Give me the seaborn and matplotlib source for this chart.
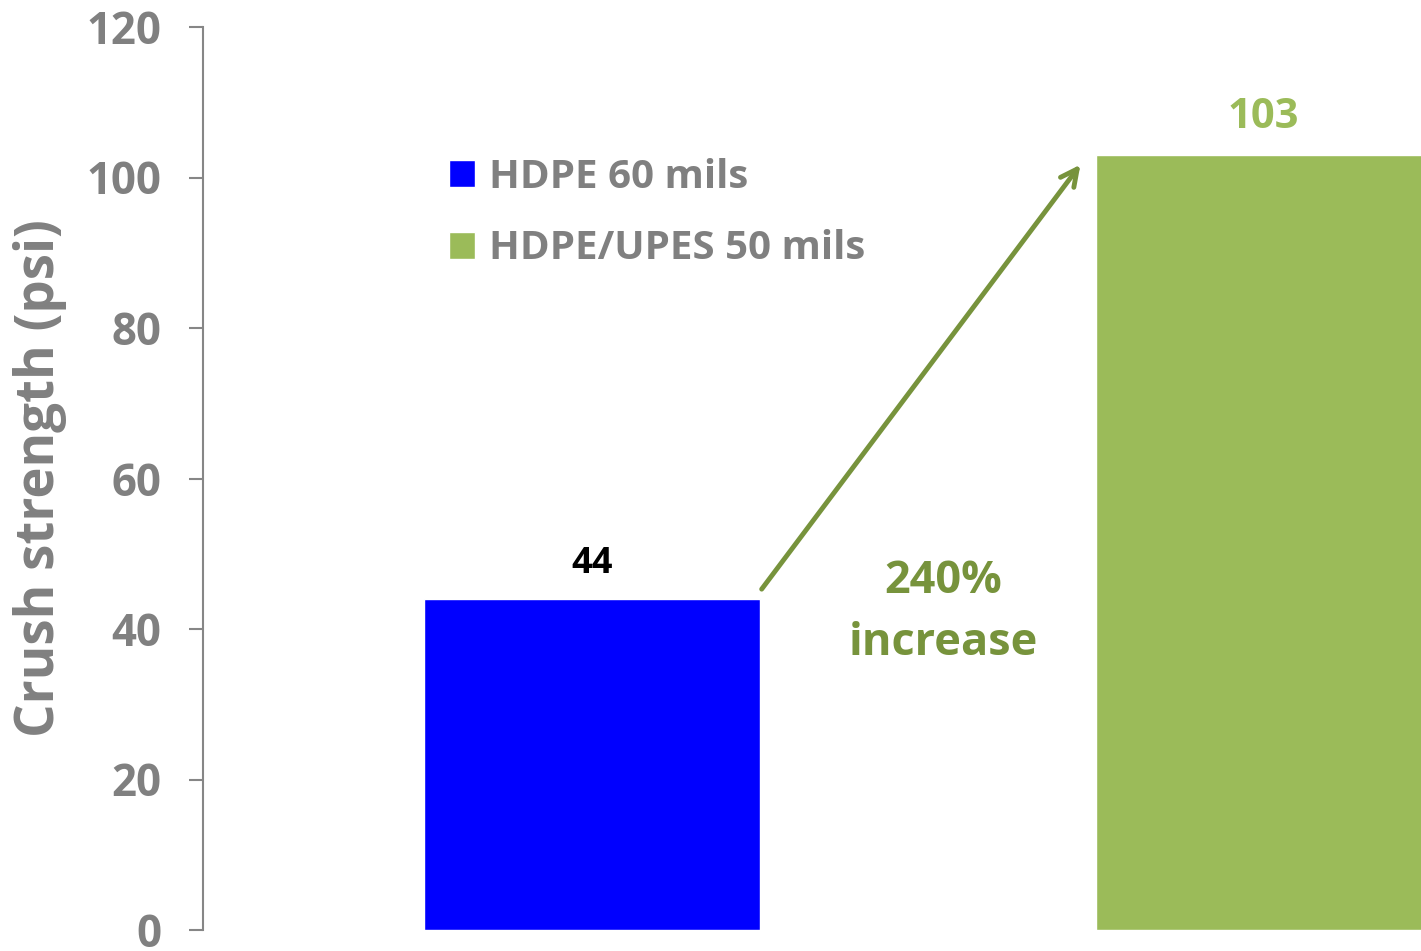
"""Crush strength bar chart."""
import pandas as pd
import seaborn as sns
import matplotlib.pyplot as plt

# data
categories = ['HDPE 60 mils', 'HDPE/UPES 50 mils']
values = [44, 103]
value_labels = ['44', '103']
bar_colors = ['#0000FF', '#9BBB59']
yticks = [0, 20, 40, 60, 80, 100, 120]
increase_text = '240%\nincrease'

df = pd.DataFrame({'material': categories, 'strength': values})

sns.set_theme(style='white')
plt.rcParams['font.family'] = ['Open Sans', 'DejaVu Sans']
plt.rcParams['font.weight'] = 'bold'

fig = plt.figure(figsize=(14.21, 9.51), dpi=100)
ax = fig.add_axes([203 / 1421, 21 / 951, 1218 / 1421, 903 / 951])

sns.barplot(data=df, x='material', y='strength', hue='material', order=categories,
            hue_order=categories, palette=bar_colors, width=0.5, dodge=False,
            legend=True, ax=ax, saturation=1)

ax.set_ylim(0, 120)
ax.set_xlim(-0.58, 1.235)
ax.set_yticks(yticks)
ax.set_yticklabels([str(t) for t in yticks], fontsize=31.5, color='#808080', fontweight='bold')
ax.set_xticks([])
ax.set_xlabel('')
ax.set_ylabel('Crush strength (psi)', fontsize=38, color='#808080', fontweight='bold', labelpad=14)

for s in ['top', 'right', 'bottom']:
    ax.spines[s].set_visible(False)
ax.spines['left'].set_color('#868686')
ax.spines['left'].set_linewidth(1.5)
ax.tick_params(axis='y', direction='out', length=10, width=1.5, color='#868686', pad=20, left=True)

# value labels
label_colors = ['black', '#9BBB59']
label_sizes = [26, 30]
for i, (v, lab) in enumerate(zip(values, value_labels)):
    ax.text(i, v + 2.3, lab, ha='center', va='bottom', fontsize=label_sizes[i],
            fontweight='bold', color=label_colors[i])

# arrow and increase note
ax.annotate('', xy=(0.73, values[1] - 1), xytext=(0.25, values[0] + 1),
            arrowprops=dict(arrowstyle='->', color='#77933C', lw=3.5, mutation_scale=30))
ax.text(0.523, 42.2, increase_text, ha='center', va='center', fontsize=32.5,
        fontweight='bold', color='#77933C', linespacing=1.48)

leg = ax.legend(loc='upper left', bbox_to_anchor=(0.172, 0.895), frameon=False,
                fontsize=29, handlelength=0.65, handleheight=0.65, handletextpad=0.35,
                labelspacing=0.8)
for t in leg.get_texts():
    t.set_color('#808080')
    t.set_fontweight('bold')

fig.savefig('out.png', dpi=100)
